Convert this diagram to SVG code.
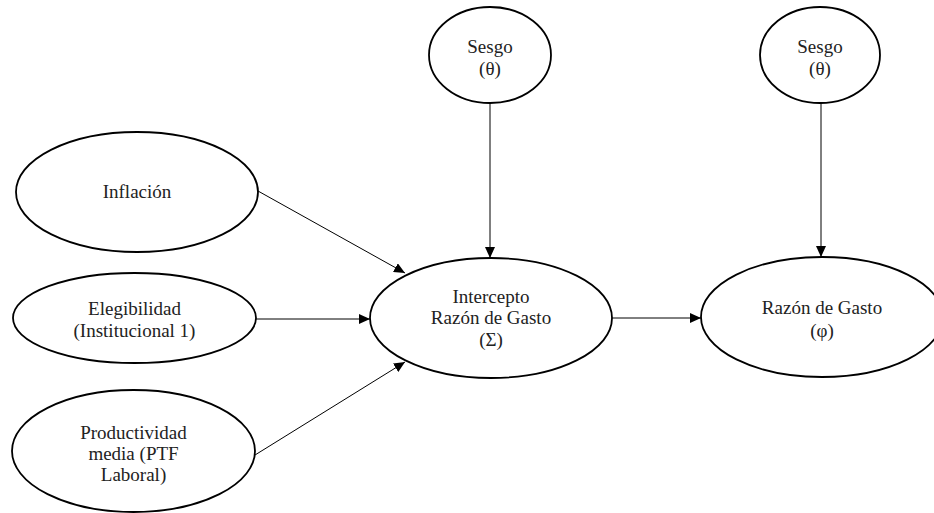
<svg xmlns="http://www.w3.org/2000/svg" width="934" height="513" viewBox="0 0 934 513">
<style>
.node ellipse{fill:#fff;stroke:#000;stroke-width:1.8}
.node text{font-family:"Liberation Serif","Times New Roman",serif;font-size:19px;fill:#222;text-anchor:middle}
.edges line{stroke:#000;stroke-width:1;marker-end:url(#arr)}
</style>
<defs>
<marker id="arr" markerUnits="userSpaceOnUse" markerWidth="11" markerHeight="10" refX="11" refY="5" orient="auto">
<path d="M0,0 L11,5 L0,10 z" fill="#000"/>
</marker>
</defs>
<rect width="934" height="513" fill="#fff"/>
<g class="edges">
<line x1="490" y1="103" x2="490" y2="258"/>
<line x1="821" y1="103" x2="821" y2="257"/>
<line x1="612" y1="318" x2="701" y2="318"/>
<line x1="256" y1="319" x2="370" y2="319"/>
<line x1="258" y1="191" x2="405" y2="273"/>
<line x1="255" y1="455" x2="405" y2="362"/>
</g>
<g id="sesgo1" class="node">
<ellipse cx="490" cy="55" rx="61" ry="48"/>
<text x="490" y="53">Sesgo</text>
<text x="490" y="75">(θ)</text>
</g>
<g id="sesgo2" class="node">
<ellipse cx="820" cy="55" rx="60" ry="48"/>
<text x="820" y="53">Sesgo</text>
<text x="820" y="75">(θ)</text>
</g>
<g id="inflacion" class="node">
<ellipse cx="137" cy="192" rx="121" ry="60"/>
<text x="137" y="198">Inflación</text>
</g>
<g id="elegibilidad" class="node">
<ellipse cx="134.5" cy="318" rx="121.5" ry="45"/>
<text x="134.5" y="315">Elegibilidad</text>
<text x="134.5" y="337">(Institucional 1)</text>
</g>
<g id="productividad" class="node">
<ellipse cx="133.5" cy="451" rx="121.5" ry="61"/>
<text x="133.5" y="439">Productividad</text>
<text x="133.5" y="460">media (PTF</text>
<text x="133.5" y="481">Laboral)</text>
</g>
<g id="intercepto" class="node">
<ellipse cx="491" cy="318" rx="121" ry="60"/>
<text x="491" y="303">Intercepto</text>
<text x="491" y="324">Razón de Gasto</text>
<text x="491" y="346">(Σ)</text>
</g>
<g id="razon" class="node">
<ellipse cx="822" cy="317" rx="121" ry="60"/>
<text x="822" y="314">Razón de Gasto</text>
<text x="822" y="337">(φ)</text>
</g>
</svg>
